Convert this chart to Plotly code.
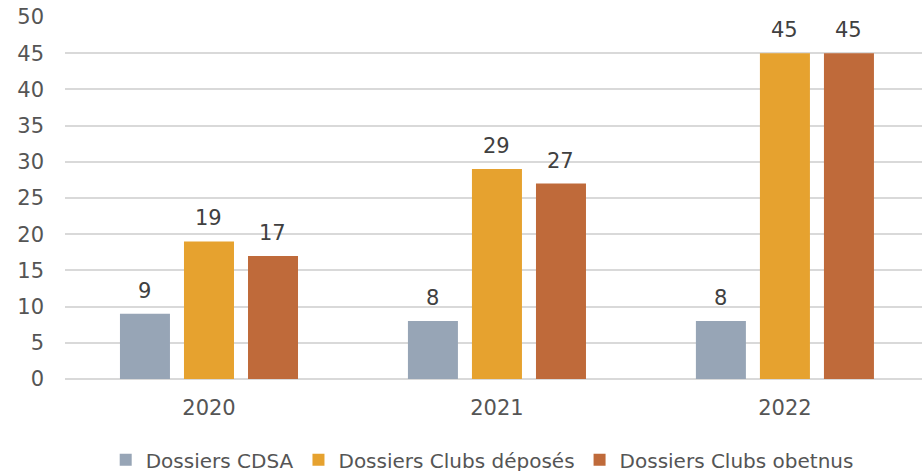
import plotly.graph_objects as go

years = ["2020", "2021", "2022"]
series_names = ["Dossiers CDSA", "Dossiers Clubs déposés", "Dossiers Clubs obetnus"]
cdsa = [9, 8, 8]
clubs_deposes = [19, 29, 45]
clubs_obtenus = [17, 27, 45]
y_ticks = [0, 5, 10, 15, 20, 25, 30, 35, 40, 45, 50]

colors = ["#97A5B6", "#E6A22F", "#BF6A3A"]
values = [cdsa, clubs_deposes, clubs_obtenus]
FONT = "DejaVu Sans"
TEXT = "#404040"
AXTEXT = "#555555"
FS = 21

fig = go.Figure()
for name, vals, col in zip(series_names, values, colors):
    fig.add_trace(go.Bar(x=years, y=vals, name=name, marker=dict(color=col, line=dict(width=0))))

# data labels above bars (offset per group slot)
slot_px = 64
for i, vals in enumerate(values):
    for j, v in enumerate(vals):
        fig.add_annotation(x=j, y=v, xref="x", yref="y", text=str(v), showarrow=False,
                           xanchor="center", yanchor="bottom",
                           xshift=(i - 1) * slot_px, yshift=9,
                           font=dict(family=FONT, size=FS, color=TEXT))

fig.update_layout(
    width=922, height=471,
    margin=dict(l=65, r=0, t=17, b=92, autoexpand=False),
    paper_bgcolor="white", plot_bgcolor="white",
    barmode="group", bargap=0.333, bargroupgap=0.219,
    font=dict(family=FONT, size=FS, color=AXTEXT),
    showlegend=True,
    legend=dict(orientation="h", x=0.523, xanchor="center", xref="container",
                y=0.024, yanchor="middle", yref="container",
                font=dict(family=FONT, size=20, color=AXTEXT), itemclick=False),
)
fig.update_xaxes(type="category", range=[-0.5, 2.476], showgrid=False, showline=False,
                 ticks="", ticklabelstandoff=14, tickfont=dict(family=FONT, size=FS, color=AXTEXT))
fig.update_yaxes(range=[0, 50], tickvals=y_ticks, showgrid=True, gridcolor="#D9D9D9", gridwidth=1.5,
                 zeroline=True, zerolinecolor="#D9D9D9", zerolinewidth=1.5, showline=False,
                 ticks="", ticklabelstandoff=20, tickfont=dict(family=FONT, size=FS, color=AXTEXT))

fig.write_html("out.html", config={"displayModeBar": False},
               post_script="document.body.style.margin='0';")
